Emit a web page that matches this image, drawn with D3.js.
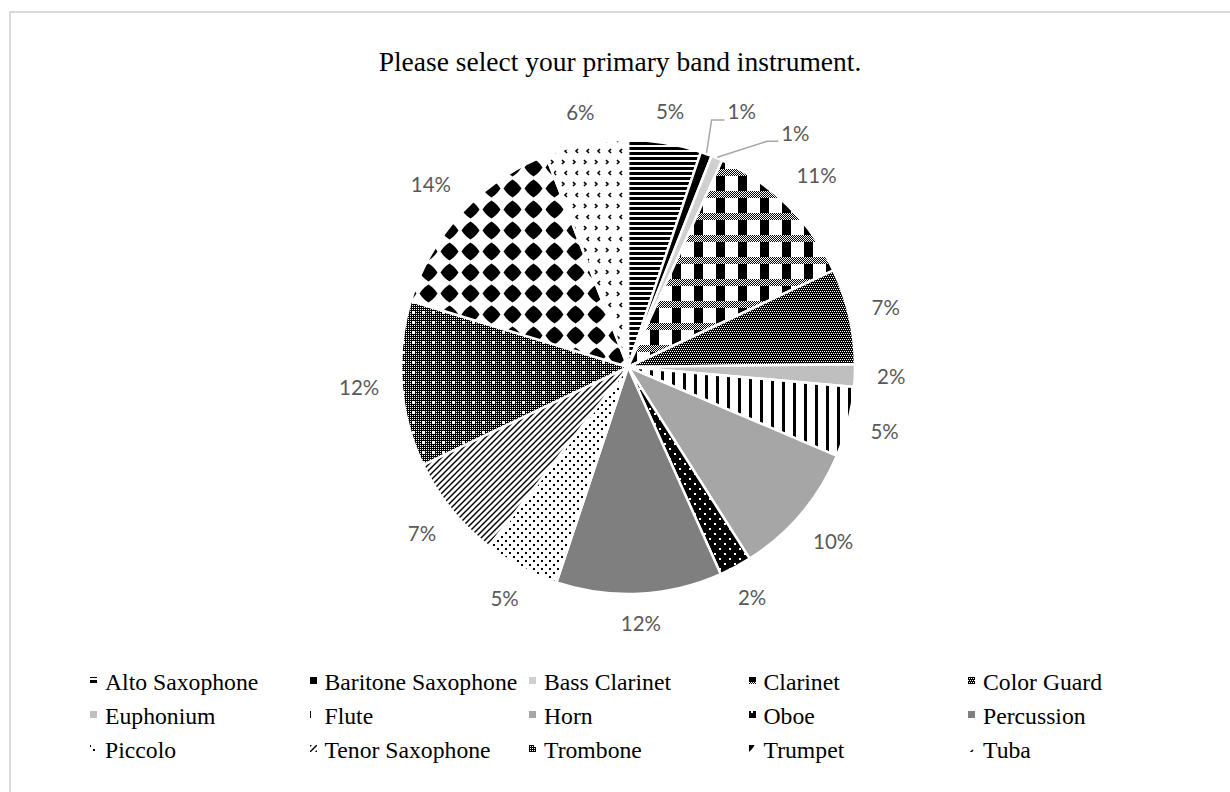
<!DOCTYPE html>
<html><head><meta charset="utf-8">
<script src="https://cdn.jsdelivr.net/npm/d3@7"></script>
<style>html,body{margin:0;padding:0;background:#fff;} svg{display:block;}</style>
</head><body>
<svg id="chart" width="1230" height="792"></svg>
<script>
// Survey answers: share of respondents (%) per primary band instrument
const categories = ["Alto Saxophone","Baritone Saxophone","Bass Clarinet","Clarinet","Color Guard",
  "Euphonium","Flute","Horn","Oboe","Percussion",
  "Piccolo","Tenor Saxophone","Trombone","Trumpet","Tuba"];
const shares = [5.2,0.8,0.8,11.2,6.8, 1.6,5.0,9.6,2.3,11.8, 5.4,7.4,11.8,14.4,5.9];
const titleText = "Please select your primary band instrument.";

// fill style for each slice (pattern ids or flat greys), same order as categories
const fillKeys = ["alto","black","#d0d0d0","plaid","cguard","#bfbfbf","vstripe","#a6a6a6","oboe","#7f7f7f",
  "piccolo","diag","tromb","diamond","tuba"];
// slices whose labels hang on leader lines
const calloutLabels = {
  "Baritone Saxophone": {lx: 21, ly: -34, ex: 5, ey: -33},
  "Bass Clarinet": {lx: 64, ly: -16, ex: 50, ey: -16}
};

const svg = d3.select("#chart");
const defs = svg.append("defs");

function makePattern(id, w, h, bg) {
  const p = defs.append("pattern").attr("id", id)
    .attr("patternUnits", "userSpaceOnUse").attr("x", 0).attr("y", 0)
    .attr("width", w).attr("height", h);
  p.append("rect").attr("width", w).attr("height", h).attr("fill", bg);
  return p;
}
function px(p, x, y, w, h, c) {
  p.append("rect").attr("x", x).attr("y", y).attr("width", w).attr("height", h)
    .attr("fill", c || "#000").attr("shape-rendering", "crispEdges");
}

// horizontal stripes
{ const p = makePattern("alto", 4, 5, "#fff"); px(p, 0, 0, 4, 3); }
// plaid: fine checker band over black columns
{ const p = makePattern("plaid", 22, 22, "#fff");
  for (let y = 0; y < 7; y++) for (let x = 0; x < 22; x++)
    if ((x + y) % 2 === 0) px(p, x, y, 1, 1);
  px(p, 0, 7, 9, 15); }
// dense small checker
{ const p = makePattern("cguard", 4, 4, "#000");
  [[0,0],[2,0],[1,2],[3,2]].forEach(([x,y]) => px(p, x, y, 1, 1, "#fff")); }
// vertical bars
{ const p = makePattern("vstripe", 11, 11, "#fff"); px(p, 0, 0, 3, 11); }
// white dots on black
{ const p = makePattern("oboe", 10, 10, "#000"); px(p, 1, 1, 2, 2, "#fff"); px(p, 6, 6, 2, 2, "#fff"); }
// black dots on white
{ const p = makePattern("piccolo", 8, 8, "#fff"); px(p, 1, 1, 2, 2); px(p, 5, 5, 2, 2); }
// upward diagonal lines
{ const p = makePattern("diag", 6, 6, "#fff");
  ["M0,6L6,0", "M-1,1L1,-1", "M5,7L7,5"].forEach(d =>
    p.append("path").attr("d", d).attr("stroke", "#000").attr("stroke-width", 1.5)); }
// dark fine grid with small open crosses
{ const p = makePattern("tromb", 10, 10, "#000");
  for (let y = 0; y < 10; y += 2) for (let x = 0; x < 10; x += 2) px(p, x, y, 1, 1, "#fff");
  px(p, 4, 5, 3, 1, "#fff"); px(p, 5, 4, 1, 3, "#fff"); }
// large diamonds
{ const p = makePattern("diamond", 21, 21, "#fff");
  const c = 10.5;
  const pts = [[0,-9],[3.5,-6.5],[6.5,-3.5],[9,0],[6.5,3.5],[3.5,6.5],[0,9],[-3.5,6.5],[-6.5,3.5],[-9,0],[-6.5,-3.5],[-3.5,-6.5]];
  p.append("polygon").attr("points", pts.map(([x,y]) => (c + x) + "," + (c + y)).join(" ")).attr("fill", "#000"); }
// sparse chevrons
{ const p = makePattern("tuba", 11, 22, "#fff");
  p.append("path").attr("d", "M5,2L3,4L5,6").attr("fill", "none").attr("stroke", "#000").attr("stroke-width", 1.6);
  p.append("path").attr("d", "M0,13L2,15L0,17 M11,13L13,15L11,17").attr("fill", "none").attr("stroke", "#000").attr("stroke-width", 1.6); }

function fillOf(k) {
  if (k === "black") return "#000";
  if (k.startsWith("#")) return k;
  return "url(#" + k + ")";
}

const data = categories.map((name, i) => ({name, value: shares[i], fill: fillOf(fillKeys[i])}));
const total = d3.sum(shares);
const pct = v => Math.round(v / total * 100) + "%";

// chart frame
svg.append("rect").attr("x", 10).attr("y", 12).attr("width", 1240).attr("height", 800)
  .attr("fill", "none").attr("stroke", "#d9d9d9").attr("stroke-width", 2);

// title
svg.append("text").attr("x", 620).attr("y", 71).attr("text-anchor", "middle")
  .attr("font-family", "'Liberation Serif', 'Times New Roman', serif").attr("font-size", 27.5)
  .attr("fill", "#000").text(titleText);

// pie
const cx = 628, cy = 367, R = 227;
const pie = d3.pie().sort(null).value(d => d.value);
const arc = d3.arc().innerRadius(0).outerRadius(R);
const arcs = pie(data);
const g = svg.append("g").attr("transform", `translate(${cx},${cy})`);
g.selectAll("path.slice").data(arcs).join("path").attr("class", "slice")
  .attr("d", arc).attr("fill", d => d.data.fill)
  .attr("stroke", "#fff").attr("stroke-width", 2.5).attr("stroke-linejoin", "round");

// data labels
const labelFont = "Lato, 'Open Sans', sans-serif", labelSize = 20.5, labelColor = "#595959";
const gap = 22, halfH = 7.4;
const lg = g.append("g");
arcs.forEach(d => {
  const a = (d.startAngle + d.endAngle) / 2;
  const sx = Math.sin(a), sy = -Math.cos(a);
  const t = lg.append("text").attr("font-family", labelFont).attr("font-size", labelSize)
    .attr("fill", labelColor).text(pct(d.data.value));
  const co = calloutLabels[d.data.name];
  if (co) {
    const ax = sx * (R + 1), ay = sy * (R + 1);
    t.attr("x", ax + co.lx).attr("y", ay + co.ly);
    lg.append("path").attr("d", `M${ax},${ay}L${ax + co.ex},${ay + co.ey}L${ax + co.lx - 3},${ay + co.ey}`)
      .attr("fill", "none").attr("stroke", "#a6a6a6").attr("stroke-width", 1.5);
  } else {
    const w = t.node().getComputedTextLength() / 2;
    const dist = R + gap + Math.abs(sx) * w + Math.abs(sy) * halfH;
    t.attr("text-anchor", "middle").attr("x", sx * dist).attr("y", sy * dist).attr("dy", "0.36em");
  }
});

// legend: 5 columns, row-major
const legendX0 = 90, legendColW = 219.5, legendY0 = 690, legendRowH = 34, perRow = 5;
const leg = svg.append("g");
data.forEach((d, i) => {
  const col = i % perRow, row = Math.floor(i / perRow);
  const x = legendX0 + col * legendColW, y = legendY0 + row * legendRowH;
  leg.append("rect").attr("x", Math.round(x)).attr("y", y - 13).attr("width", 7).attr("height", 7)
    .attr("fill", d.fill);
  leg.append("text").attr("x", x + 15).attr("y", y)
    .attr("font-family", "'Liberation Serif', 'Times New Roman', serif").attr("font-size", 23.7)
    .attr("fill", "#000").text(d.name);
});
</script>
</body></html>
